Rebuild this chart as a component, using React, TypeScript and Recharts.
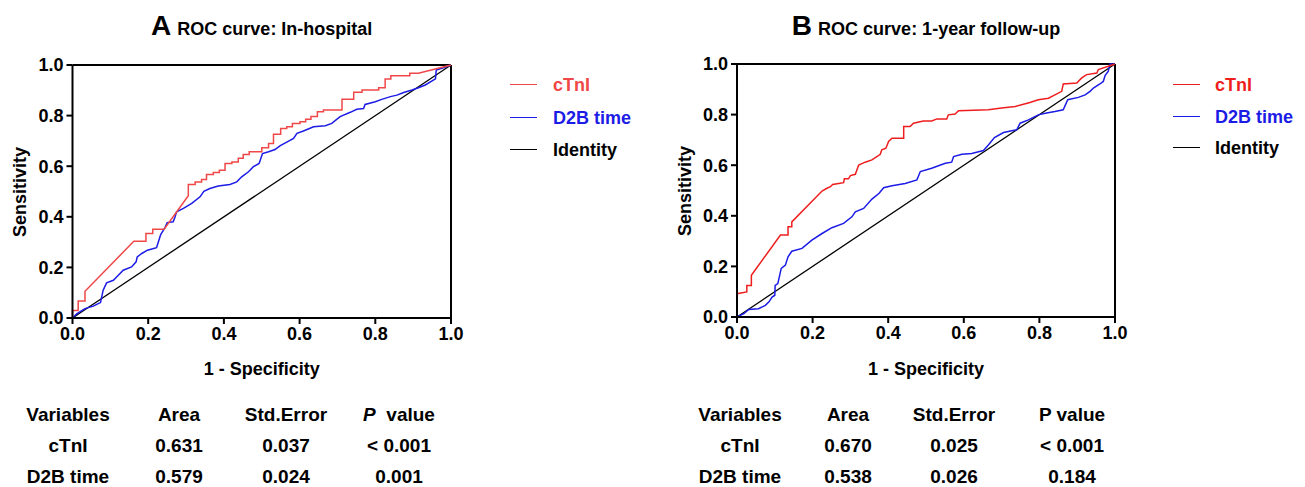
import React from 'react';
import { LineChart, Line, XAxis, YAxis, ReferenceLine } from 'recharts';

const FONT = '"Liberation Sans", Arial, Helvetica, sans-serif';

const axisTicks = [0, 0.2, 0.4, 0.6, 0.8, 1.0];
const legendLabels = ['cTnI', 'D2B time', 'Identity'];
const tableHeader = ['Variables', 'Area', 'Std.Error', 'P value'];

const tableRowsA = [
  ['cTnI', '0.631', '0.037', '< 0.001'],
  ['D2B time', '0.579', '0.024', '0.001'],
];
const tableRowsB = [
  ['cTnI', '0.670', '0.025', '< 0.001'],
  ['D2B time', '0.538', '0.026', '0.184'],
];

const identity: [number, number][] = [[0, 0], [1, 1]];

// Panel A: In-hospital
const ctniA: [number, number][] = [
  [0, 0], [0, 0.03], [0.015, 0.03], [0.015, 0.067], [0.033, 0.067], [0.033, 0.106],
  [0.162, 0.303], [0.194, 0.303], [0.194, 0.334], [0.212, 0.334], [0.212, 0.351],
  [0.242, 0.351], [0.306, 0.483], [0.306, 0.528], [0.324, 0.528], [0.324, 0.538],
  [0.341, 0.538], [0.341, 0.547], [0.354, 0.547], [0.354, 0.567], [0.372, 0.567],
  [0.372, 0.575], [0.388, 0.575], [0.388, 0.584], [0.403, 0.584], [0.403, 0.611],
  [0.421, 0.611], [0.421, 0.617], [0.438, 0.617], [0.438, 0.631], [0.451, 0.631],
  [0.451, 0.646], [0.467, 0.646], [0.467, 0.657], [0.5, 0.657], [0.5, 0.673],
  [0.518, 0.673], [0.518, 0.69], [0.531, 0.69], [0.531, 0.726], [0.55, 0.726],
  [0.55, 0.749], [0.566, 0.749], [0.566, 0.756], [0.581, 0.756], [0.581, 0.769],
  [0.601, 0.769], [0.601, 0.776], [0.616, 0.776], [0.616, 0.786], [0.63, 0.786],
  [0.63, 0.796], [0.647, 0.796], [0.647, 0.815], [0.663, 0.815], [0.663, 0.822],
  [0.712, 0.822], [0.712, 0.865], [0.743, 0.865], [0.743, 0.892], [0.765, 0.892],
  [0.765, 0.901], [0.809, 0.901], [0.809, 0.91], [0.826, 0.91], [0.826, 0.945],
  [0.841, 0.945], [0.841, 0.958], [0.891, 0.958], [0.891, 0.967], [0.914, 0.967],
  [1, 1],
];

const d2bA: [number, number][] = [
  [0, 0], [0.011, 0.016], [0.033, 0.037], [0.055, 0.047], [0.068, 0.057], [0.074, 0.061],
  [0.081, 0.11], [0.09, 0.139], [0.108, 0.149], [0.121, 0.169], [0.134, 0.189],
  [0.156, 0.202], [0.168, 0.222], [0.171, 0.241], [0.183, 0.255], [0.198, 0.268],
  [0.222, 0.278], [0.227, 0.301], [0.233, 0.33], [0.244, 0.356], [0.25, 0.377],
  [0.266, 0.38], [0.271, 0.4], [0.275, 0.42], [0.293, 0.433], [0.315, 0.453],
  [0.337, 0.479], [0.347, 0.501], [0.363, 0.512], [0.385, 0.522], [0.416, 0.528],
  [0.434, 0.538], [0.447, 0.558], [0.465, 0.578], [0.478, 0.598], [0.493, 0.611],
  [0.502, 0.65], [0.518, 0.657], [0.535, 0.666], [0.549, 0.681], [0.571, 0.699],
  [0.584, 0.71], [0.593, 0.73], [0.61, 0.739], [0.637, 0.756], [0.668, 0.76],
  [0.685, 0.769], [0.707, 0.796], [0.734, 0.813], [0.751, 0.825], [0.769, 0.828],
  [0.773, 0.844], [0.8, 0.855], [0.817, 0.864], [0.84, 0.875], [0.857, 0.881],
  [0.875, 0.891], [0.897, 0.901], [0.914, 0.91], [0.932, 0.921], [0.959, 0.945],
  [0.961, 0.98], [0.976, 0.987], [1, 1],
];

// Panel B: 1-year follow-up
const ctniB: [number, number][] = [
  [0, 0], [0, 0.092], [0.026, 0.099], [0.026, 0.125], [0.038, 0.125], [0.038, 0.165],
  [0.115, 0.324], [0.135, 0.324], [0.135, 0.357], [0.145, 0.357], [0.145, 0.376],
  [0.225, 0.498], [0.238, 0.509], [0.247, 0.515], [0.253, 0.524], [0.269, 0.528],
  [0.282, 0.531], [0.284, 0.546], [0.295, 0.546], [0.3, 0.559], [0.313, 0.564],
  [0.322, 0.601], [0.339, 0.612], [0.357, 0.621], [0.37, 0.634], [0.379, 0.643],
  [0.383, 0.661], [0.394, 0.667], [0.401, 0.694], [0.41, 0.707], [0.423, 0.707],
  [0.441, 0.707], [0.441, 0.753], [0.458, 0.753], [0.467, 0.766], [0.493, 0.775],
  [0.515, 0.775], [0.529, 0.783], [0.555, 0.783], [0.559, 0.799], [0.577, 0.802],
  [0.586, 0.815], [0.665, 0.819], [0.7, 0.826], [0.736, 0.832], [0.753, 0.839],
  [0.775, 0.848], [0.797, 0.859], [0.824, 0.865], [0.841, 0.878], [0.859, 0.892],
  [0.863, 0.921], [0.899, 0.925], [0.912, 0.945], [0.925, 0.958], [0.952, 0.964],
  [0.956, 0.978], [1, 1],
];

const d2bB: [number, number][] = [
  [0, 0], [0.018, 0.013], [0.031, 0.03], [0.057, 0.033], [0.075, 0.046], [0.084, 0.059],
  [0.093, 0.079], [0.1, 0.086], [0.101, 0.125], [0.108, 0.132], [0.117, 0.192],
  [0.128, 0.205], [0.135, 0.238], [0.145, 0.26], [0.172, 0.271], [0.198, 0.304],
  [0.225, 0.33], [0.251, 0.353], [0.282, 0.37], [0.304, 0.396], [0.313, 0.416],
  [0.335, 0.429], [0.357, 0.466], [0.376, 0.489], [0.388, 0.511], [0.41, 0.519],
  [0.445, 0.528], [0.476, 0.542], [0.485, 0.575], [0.515, 0.588], [0.551, 0.608],
  [0.568, 0.612], [0.573, 0.634], [0.595, 0.643], [0.621, 0.646], [0.652, 0.658],
  [0.665, 0.68], [0.681, 0.709], [0.705, 0.729], [0.727, 0.736], [0.74, 0.74],
  [0.749, 0.766], [0.771, 0.779], [0.797, 0.799], [0.819, 0.806], [0.841, 0.812],
  [0.863, 0.819], [0.875, 0.859], [0.903, 0.868], [0.921, 0.878], [0.934, 0.892],
  [0.943, 0.905], [0.96, 0.921], [0.969, 0.931], [0.974, 0.955], [0.982, 0.971],
  [0.987, 1], [1, 1],
];

const toData = (pts: [number, number][]) => pts.map(([x, y]) => ({ x, y }));

const fmt = (v: number) => v.toFixed(1);

type PanelProps = {
  left: number;
  plotLeft: number;
  plotRight: number;
  plotTop: number;
  plotBottom: number;
  letter: string;
  title: string;
  red: string;
  blue: string;
  ctni: [number, number][];
  d2b: [number, number][];
  legendLineX: number;
  legendTextX: number;
  legendY: number[];
  tableCols: number[];
  tableRows: string[][];
  italicP: boolean;
};

const W = 480;
const H = 360;
const XAXIS_H = 30;
const YAXIS_W = 60;

function Panel(p: PanelProps) {
  const margin = {
    top: p.plotTop,
    left: p.plotLeft - p.left - YAXIS_W,
    right: p.left + W - p.plotRight,
    bottom: H - p.plotBottom - XAXIS_H,
  };
  const cx = (p.plotLeft + p.plotRight) / 2;
  const cy = (p.plotTop + p.plotBottom) / 2;
  const tickStyle = { fontSize: 18, fontWeight: 700, fill: '#000', fontFamily: FONT };
  const colors = [p.red, p.blue, '#000'];
  const rowY = [415, 446, 477];
  return (
    <>
      <div style={{ position: 'absolute', left: p.left, top: 0 }}>
        <LineChart width={W} height={H} margin={margin}>
          <XAxis
            type="number"
            dataKey="x"
            domain={[0, 1]}
            ticks={axisTicks}
            tickFormatter={fmt}
            height={XAXIS_H}
            axisLine={{ stroke: '#000', strokeWidth: 2 }}
            tickLine={{ stroke: '#000', strokeWidth: 2 }}
            tickSize={6}
            tickMargin={3}
            tick={tickStyle}
            allowDuplicatedCategory={false}
          />
          <YAxis
            type="number"
            dataKey="y"
            domain={[0, 1]}
            ticks={axisTicks}
            tickFormatter={fmt}
            width={YAXIS_W}
            axisLine={{ stroke: '#000', strokeWidth: 2 }}
            tickLine={{ stroke: '#000', strokeWidth: 2 }}
            tickSize={6}
            tickMargin={3}
            tick={tickStyle}
          />
          <ReferenceLine y={1} stroke="#000" strokeWidth={2} />
          <ReferenceLine x={1} stroke="#000" strokeWidth={2} />
          <Line
            data={toData(identity)}
            dataKey="y"
            type="linear"
            stroke="#000"
            strokeWidth={1.3}
            dot={false}
            isAnimationActive={false}
          />
          <Line
            data={toData(p.d2b)}
            dataKey="y"
            type="linear"
            stroke={p.blue}
            strokeWidth={1.5}
            dot={false}
            isAnimationActive={false}
          />
          <Line
            data={toData(p.ctni)}
            dataKey="y"
            type="linear"
            stroke={p.red}
            strokeWidth={1.5}
            dot={false}
            isAnimationActive={false}
          />
        </LineChart>
      </div>
      {/* Title */}
      <div
        style={{
          position: 'absolute',
          left: cx - 200,
          width: 400,
          top: 10,
          textAlign: 'center',
          fontFamily: FONT,
          fontWeight: 700,
          color: '#000',
          whiteSpace: 'nowrap',
          lineHeight: '32px',
        }}
      >
        <span style={{ fontSize: 28 }}>{p.letter}</span>
        <span style={{ fontSize: 18, marginLeft: 6 }}>{p.title}</span>
      </div>
      {/* Axis labels */}
      <div
        style={{
          position: 'absolute',
          left: cx - 100,
          width: 200,
          top: 369 - 11,
          height: 22,
          lineHeight: '22px',
          textAlign: 'center',
          fontFamily: FONT,
          fontWeight: 700,
          fontSize: 18,
        }}
      >
        1 - Specificity
      </div>
      <div
        style={{
          position: 'absolute',
          left: p.plotLeft - 52.5 - 70,
          width: 140,
          top: cy - 11,
          height: 22,
          lineHeight: '22px',
          textAlign: 'center',
          fontFamily: FONT,
          fontWeight: 700,
          fontSize: 18,
          transform: 'rotate(-90deg)',
        }}
      >
        Sensitivity
      </div>
      {/* Legend */}
      {legendLabels.map((lab, i) => (
        <React.Fragment key={lab}>
          <div
            style={{
              position: 'absolute',
              left: p.legendLineX,
              top: p.legendY[i] - 0.75,
              width: 27,
              height: 0,
              borderTop: `1.5px solid ${colors[i]}`,
            }}
          />
          <div
            style={{
              position: 'absolute',
              left: p.legendTextX,
              top: p.legendY[i] - 11,
              height: 22,
              lineHeight: '22px',
              fontFamily: FONT,
              fontWeight: 700,
              fontSize: 18,
              color: colors[i],
              whiteSpace: 'nowrap',
            }}
          >
            {lab}
          </div>
        </React.Fragment>
      ))}
      {/* Table */}
      {[tableHeader, ...p.tableRows].map((row, r) =>
        row.map((cell, c) => (
          <div
            key={`${r}-${c}`}
            style={{
              position: 'absolute',
              left: p.tableCols[c] - 70,
              width: 140,
              top: rowY[r] - 11,
              height: 22,
              lineHeight: '22px',
              textAlign: 'center',
              fontFamily: FONT,
              fontWeight: 700,
              fontSize: 19,
              color: '#000',
              whiteSpace: 'pre',
            }}
          >
            {r === 0 && c === 3 ? (
              <>
                <span style={{ fontStyle: p.italicP ? 'italic' : 'normal' }}>P</span>
                {p.italicP ? '  value' : ' value'}
              </>
            ) : (
              cell
            )}
          </div>
        ))
      )}
    </>
  );
}

export default function App() {
  return (
    <div
      style={{
        position: 'absolute',
        left: 0,
        top: 0,
        width: 1305,
        height: 487,
        background: '#fff',
        overflow: 'hidden',
      }}
    >
      <Panel
        left={0}
        plotLeft={72.5}
        plotRight={451}
        plotTop={65}
        plotBottom={318}
        letter="A"
        title="ROC curve: In-hospital"
        red="#f04848"
        blue="#1c1ce6"
        ctni={ctniA}
        d2b={d2bA}
        legendLineX={510}
        legendTextX={553}
        legendY={[85, 118, 150]}
        tableCols={[68, 179, 286, 399]}
        tableRows={tableRowsA}
        italicP={true}
      />
      <Panel
        left={665}
        plotLeft={737}
        plotRight={1115}
        plotTop={64}
        plotBottom={317}
        letter="B"
        title="ROC curve: 1-year follow-up"
        red="#ee1e1e"
        blue="#1c1ce6"
        ctni={ctniB}
        d2b={d2bB}
        legendLineX={1173}
        legendTextX={1215}
        legendY={[85, 117, 148]}
        tableCols={[740, 848, 954, 1072]}
        tableRows={tableRowsB}
        italicP={false}
      />
    </div>
  );
}
